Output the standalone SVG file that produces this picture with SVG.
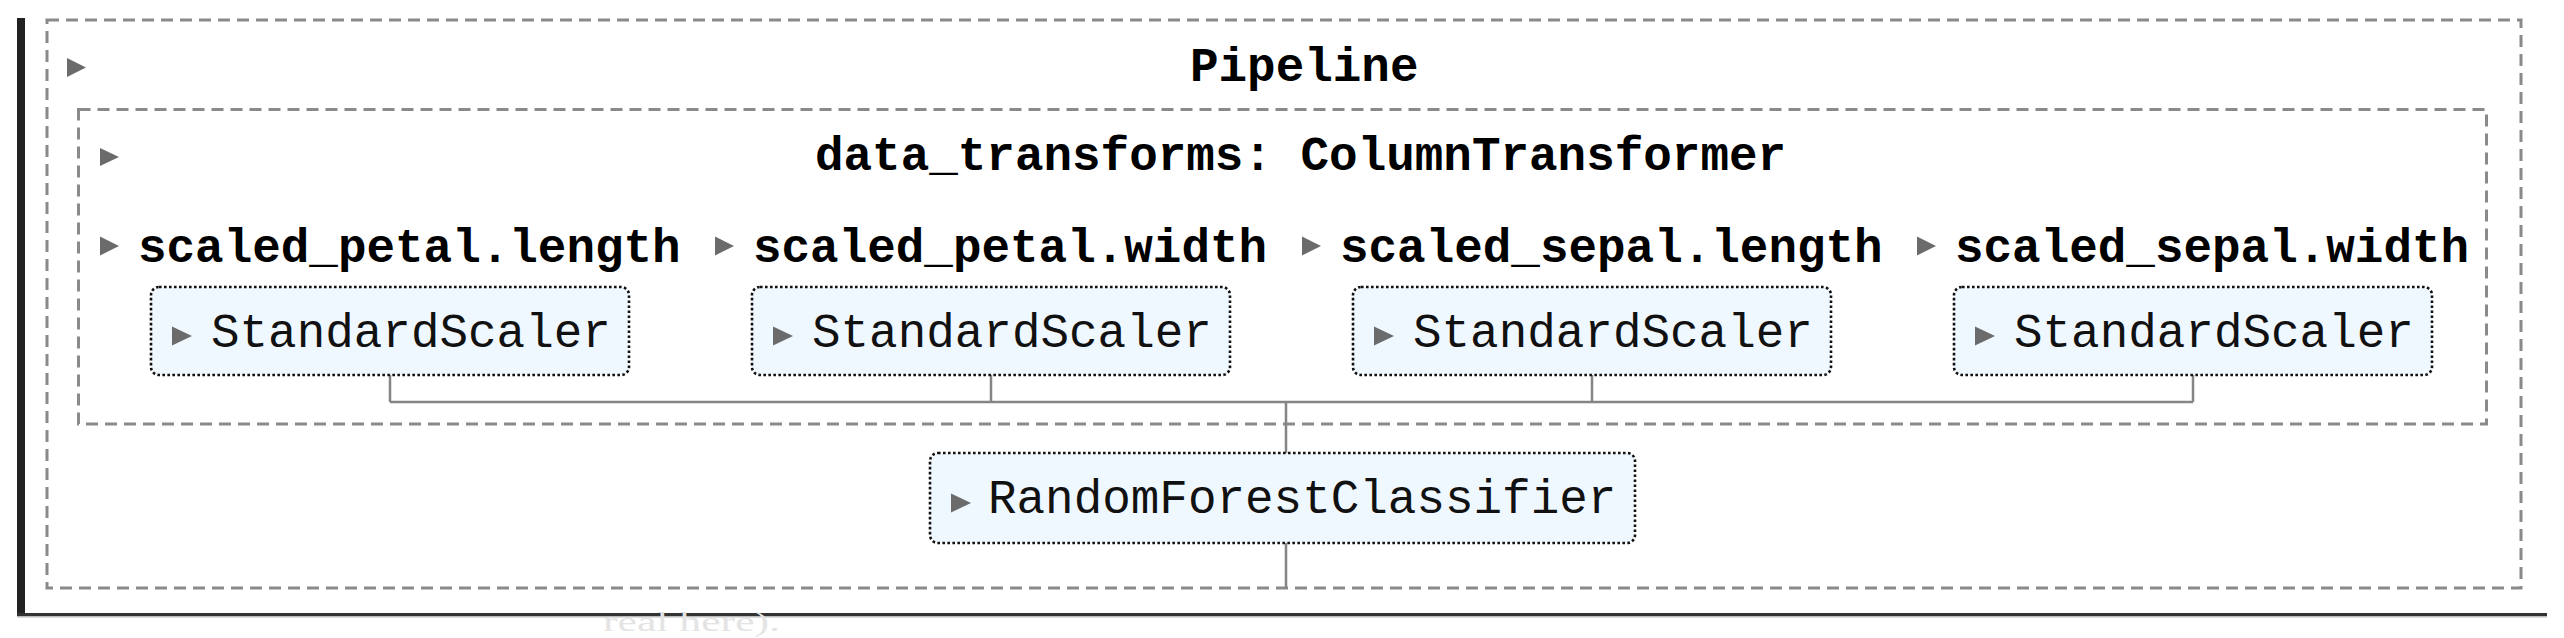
<svg xmlns="http://www.w3.org/2000/svg" width="2564" height="638" viewBox="0 0 2564 638">
<style>
.dash{fill:none;stroke:#8a8a8a;stroke-width:3;stroke-dasharray:12 7}
.est{fill:#f0f8ff;stroke:#111;stroke-width:2.6;stroke-dasharray:2.6 2.4}
.tri{fill:#6b6b6b}
.title{font-family:"Liberation Mono","DejaVu Sans Mono",monospace;font-size:47.6px;font-weight:bold;fill:#000}
.name{font-family:"Liberation Mono","DejaVu Sans Mono",monospace;font-size:47.6px;fill:#111}
.conn{fill:none;stroke:#858585;stroke-width:2.5}
.faint{font-family:"Liberation Serif","DejaVu Serif",serif;font-size:27px;fill:#e4e4e4}
</style>
<rect x="0" y="0" width="2564" height="638" fill="#fff"/>
<g id="frame">
<rect x="17" y="18" width="8" height="599" fill="#222"/>
<rect x="17" y="613" width="2530" height="3" fill="#333"/>
<rect x="17" y="616" width="2530" height="1.5" fill="#bbb"/>
</g>
<text class="faint" x="603" y="631" textLength="177" lengthAdjust="spacingAndGlyphs">real here).</text>
<g id="pipeline">
<rect class="dash" x="47" y="20" width="2474" height="568"/>
<polygon class="tri" points="67,58 86,67.5 67,77"/>
<text class="title" x="1190" y="81">Pipeline</text>
</g>
<g id="data_transforms">
<rect class="dash" x="78.5" y="109.5" width="2408" height="314.5"/>
<polygon class="tri" points="100,148 119,157 100,166"/>
<text class="title" x="815" y="170">data_transforms: ColumnTransformer</text>
</g>
<g id="col_petal_length">
<polygon class="tri" points="100,236.5 119,246 100,255.5"/>
<text class="title" x="138" y="262">scaled_petal.length</text>
</g>
<g id="col_petal_width">
<polygon class="tri" points="715,236.5 734,246 715,255.5"/>
<text class="title" x="753" y="262">scaled_petal.width</text>
</g>
<g id="col_sepal_length">
<polygon class="tri" points="1302,236.5 1321,246 1302,255.5"/>
<text class="title" x="1340" y="262">scaled_sepal.length</text>
</g>
<g id="col_sepal_width">
<polygon class="tri" points="1917,236.5 1936,246 1917,255.5"/>
<text class="title" x="1955" y="262">scaled_sepal.width</text>
</g>
<g id="connectors">
<path class="conn" d="M390,375 V402 M991,375 V402 M1592,375 V402 M2193,375 V402 M390,402 H2193 M1286,402 V453 M1286,543 V588"/>
</g>
<g id="scaler1">
<rect class="est" x="151" y="287" width="478" height="88" rx="8"/>
<polygon class="tri" points="172,326.5 192,336 172,345.5"/>
<text class="name" x="211" y="347">StandardScaler</text>
</g>
<g id="scaler2">
<rect class="est" x="752" y="287" width="478" height="88" rx="8"/>
<polygon class="tri" points="773,326.5 793,336 773,345.5"/>
<text class="name" x="812" y="347">StandardScaler</text>
</g>
<g id="scaler3">
<rect class="est" x="1353" y="287" width="478" height="88" rx="8"/>
<polygon class="tri" points="1374,326.5 1394,336 1374,345.5"/>
<text class="name" x="1413" y="347">StandardScaler</text>
</g>
<g id="scaler4">
<rect class="est" x="1954" y="287" width="478" height="88" rx="8"/>
<polygon class="tri" points="1975,326.5 1995,336 1975,345.5"/>
<text class="name" x="2014" y="347">StandardScaler</text>
</g>
<g id="classifier">
<rect class="est" x="930" y="453" width="705" height="90" rx="8"/>
<polygon class="tri" points="951,493.5 971,503 951,512.5"/>
<text class="name" x="988" y="513">RandomForestClassifier</text>
</g>
</svg>
